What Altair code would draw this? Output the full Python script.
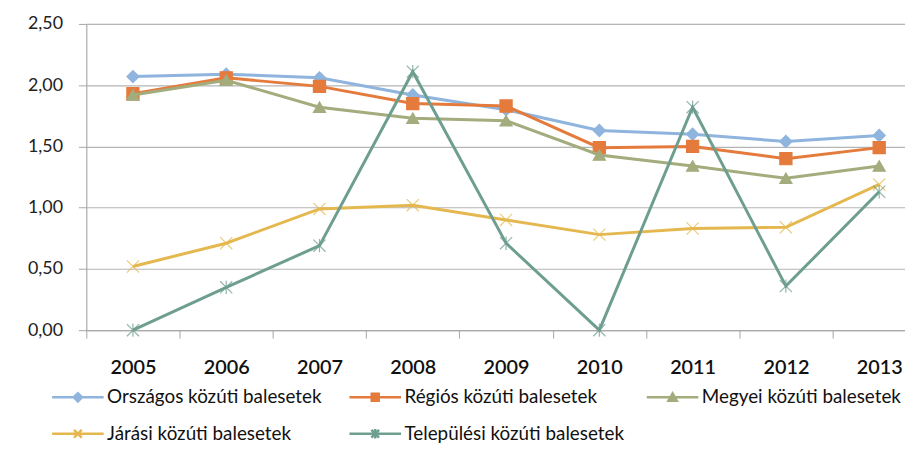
import altair as alt
import pandas as pd

years = ["2005", "2006", "2007", "2008", "2009", "2010", "2011", "2012", "2013"]
series = [
    "Országos közúti balesetek",
    "Régiós közúti balesetek",
    "Megyei közúti balesetek",
    "Járási közúti balesetek",
    "Települési közúti balesetek",
]
orszagos = [2.07, 2.09, 2.06, 1.92, 1.80, 1.63, 1.60, 1.54, 1.59]
regios = [1.93, 2.06, 1.99, 1.85, 1.83, 1.49, 1.50, 1.40, 1.49]
megyei = [1.92, 2.04, 1.82, 1.73, 1.71, 1.43, 1.34, 1.24, 1.34]
jarasi = [0.52, 0.71, 0.99, 1.02, 0.90, 0.78, 0.83, 0.84, 1.19]
telepulesi = [0.00, 0.35, 0.69, 2.11, 0.71, 0.00, 1.82, 0.36, 1.13]
y_ticks = [0, 0.5, 1.0, 1.5, 2.0, 2.5]

colors = ["#8FB4DE", "#E47B3C", "#A3AC7D", "#E5B84F", "#6E9E90"]
marker_shapes = [
    "diamond",
    "square",
    "triangle-up",
    "M-1,-1L1,1M-1,1L1,-1",
    "M-1,-1L1,1M-1,1L1,-1M0,-1.1L0,1.1",
]
marker_opacity = [1, 1, 1, 0.75, 0.75]
legend_shapes = [
    "M-2,0H2M0,-0.32L0.32,0L0,0.32L-0.32,0Z",
    "M-2,0H2M-0.27,-0.27H0.27V0.27H-0.27Z",
    "M-2,0H2M0,-0.3L0.32,0.26L-0.32,0.26Z",
    "M-2,0H2M-0.3,-0.3L0.3,0.3M-0.3,0.3L0.3,-0.3",
    "M-2,0H2M-0.3,-0.3L0.3,0.3M-0.3,0.3L0.3,-0.3M0,-0.36L0,0.36",
]

values = [orszagos, regios, megyei, jarasi, telepulesi]
rows = []
for s, vals in zip(series, values):
    for yr, v in zip(years, vals):
        rows.append({"year": yr, "series": s, "value": v})
df = pd.DataFrame(rows)

FONT = "Lato"
GRID = "#B5B5B5"

cscale = alt.Scale(domain=series, range=colors)
legend = alt.Legend(
    title=None,
    orient="none",
    legendX=-23,
    legendY=362,
    columns=3,
    direction="horizontal",
    gridAlign="all",
    columnPadding=17,
    rowPadding=12,
    symbolSize=676,
    symbolStrokeWidth=2.5,
    symbolOpacity=1,
    labelOffset=15,
    labelFont=FONT,
    labelFontSize=19,
    labelColor="#111111",
    labelLimit=400,
)

x_enc = alt.X(
    "year:O",
    sort=years,
    bandPosition=0.5,
    scale=alt.Scale(type="band", range=[0, 847], paddingInner=0, paddingOuter=0),
    axis=alt.Axis(
        title=None,
        tickBand="extent",
        labelAngle=0,
        labelFont=FONT,
        labelFontSize=20,
        labelFontWeight=600,
        labelColor="#111111",
        tickSize=8,
        labelPadding=20,
        domainColor="#A6A6A6",
        tickColor="#A6A6A6",
        grid=False,
    ),
)
y_enc = alt.Y(
    "value:Q",
    scale=alt.Scale(domain=[0, 2.5], nice=False),
    axis=alt.Axis(
        title=None,
        values=y_ticks,
        labelExpr="replace(format(datum.value, '.2f'), '.', ',')",
        labelFont=FONT,
        labelFontSize=18,
        labelColor="#222222",
        tickSize=8,
        labelPadding=16,
        grid=True,
        gridColor=GRID,
        gridWidth=1.2,
        domainColor="#A6A6A6",
        tickColor="#A6A6A6",
    ),
)

color_enc = alt.Color("series:N", scale=cscale, sort=series, legend=legend)
stroke_enc = alt.Stroke("series:N", scale=cscale, sort=series, legend=legend)

base = alt.Chart(df)
layers = []
for i, s in enumerate(series):
    line_i = (
        base.transform_filter(alt.datum.series == s)
        .mark_line(strokeWidth=3)
        .encode(x=x_enc, y=y_enc, color=color_enc, order=alt.Order("year:O"))
    )
    pts_i = (
        base.transform_filter(alt.datum.series == s)
        .mark_point(
            shape=marker_shapes[i],
            filled=True,
            size=150,
            strokeWidth=1.2,
            opacity=1,
            strokeOpacity=marker_opacity[i],
        )
        .encode(x=x_enc, y=y_enc, color=color_enc, stroke=stroke_enc)
    )
    layers += [line_i, pts_i]

ghost = base.mark_point(filled=True, size=10, opacity=0).encode(
    x=x_enc,
    y=y_enc,
    color=color_enc,
    stroke=stroke_enc,
    shape=alt.Shape(
        "series:N",
        scale=alt.Scale(domain=series, range=legend_shapes),
        sort=series,
        legend=legend,
    ),
)
layers.append(ghost)

chart = (
    alt.layer(*layers)
    .properties(
        width=826,
        height=309,
        autosize=alt.AutoSizeParams(type="none"),
        padding={"left": 79, "top": 14, "right": 0, "bottom": 138},
    )
    .configure_view(stroke=None)
    .configure(font=FONT)
)

chart.save("out.html", embed_options={"renderer": "svg", "actions": False})
